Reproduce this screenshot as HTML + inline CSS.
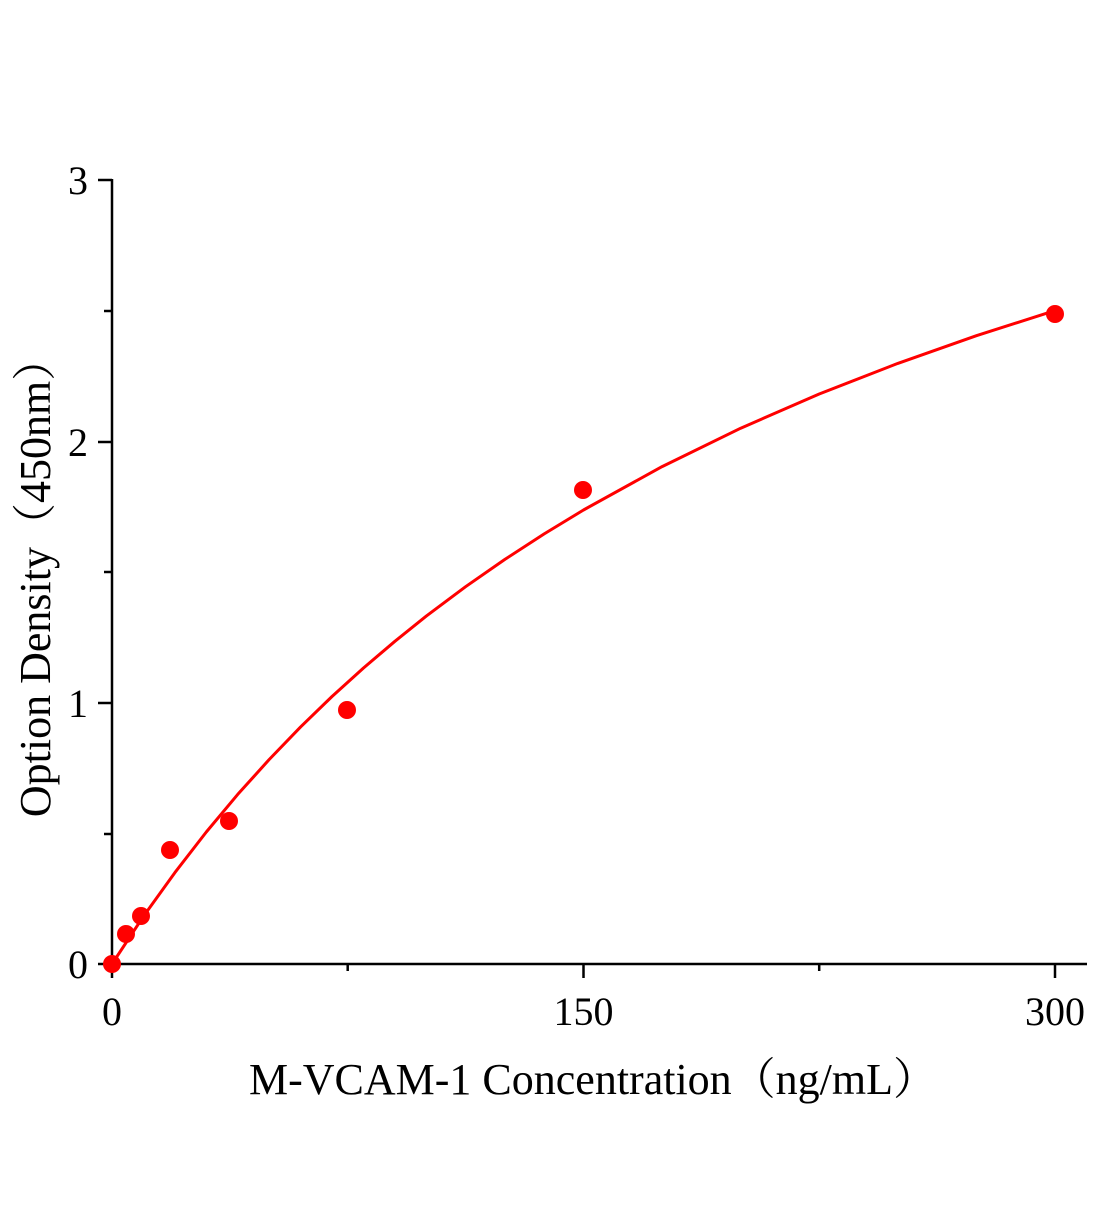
<!DOCTYPE html>
<html><head><meta charset="utf-8"><style>
html,body{margin:0;padding:0;background:#fff;}
svg text{font-family:"Liberation Serif","Noto Serif CJK SC",serif;fill:#000;}
</style></head><body>
<svg width="1104" height="1200" viewBox="0 0 1104 1200" xmlns="http://www.w3.org/2000/svg">
<g stroke="#000" stroke-width="2.5" fill="none">
<line x1="112" y1="179" x2="112" y2="965"/>
<line x1="111" y1="964" x2="1087" y2="964"/>
<line x1="98" y1="180" x2="112" y2="180"/>
<line x1="98" y1="442" x2="112" y2="442"/>
<line x1="98" y1="703" x2="112" y2="703"/>
<line x1="98" y1="964" x2="112" y2="964"/>
<line x1="104" y1="311" x2="112" y2="311"/>
<line x1="104" y1="572" x2="112" y2="572"/>
<line x1="104" y1="834" x2="112" y2="834"/>
<line x1="112" y1="964" x2="112" y2="978"/>
<line x1="583.5" y1="964" x2="583.5" y2="978"/>
<line x1="1055" y1="964" x2="1055" y2="978"/>
<line x1="347.7" y1="964" x2="347.7" y2="971"/>
<line x1="819.2" y1="964" x2="819.2" y2="971"/>
</g>
<g font-size="40" text-anchor="end">
<text x="88" y="194">3</text>
<text x="88" y="456">2</text>
<text x="88" y="717">1</text>
<text x="88" y="978">0</text>
</g>
<g font-size="40" text-anchor="middle">
<text x="112" y="1025">0</text>
<text x="583.5" y="1025">150</text>
<text x="1055" y="1025">300</text>
</g>
<text x="593" y="1094" font-size="44" text-anchor="middle">M-VCAM-1 Concentration（ng/mL）</text>
<text transform="translate(50,577) rotate(-90)" font-size="44" text-anchor="middle">Option Density（450nm）</text>
<polyline fill="none" stroke="#ff0000" stroke-width="3" stroke-linejoin="round" points="112,964 127.7,940.2 143.4,916.4 174.9,872.6 206.3,832 237.7,794.4 269.2,759.5 300.6,726.9 332,696.5 363.5,668 394.9,641.3 426.3,616.1 465.6,586.7 504.9,559.4 544.2,533.9 583.5,510 662.1,466.6 740.7,428.2 819.2,394 897.8,363.4 976.4,335.7 1055,310.6"/>
<g fill="#ff0000">
<circle cx="112" cy="964" r="9"/>
<circle cx="126" cy="934" r="9"/>
<circle cx="141" cy="916" r="9"/>
<circle cx="170" cy="850" r="9"/>
<circle cx="229" cy="821" r="9"/>
<circle cx="347" cy="710" r="9"/>
<circle cx="583" cy="490" r="9"/>
<circle cx="1055" cy="314" r="9"/>
</g>
</svg>
</body></html>
